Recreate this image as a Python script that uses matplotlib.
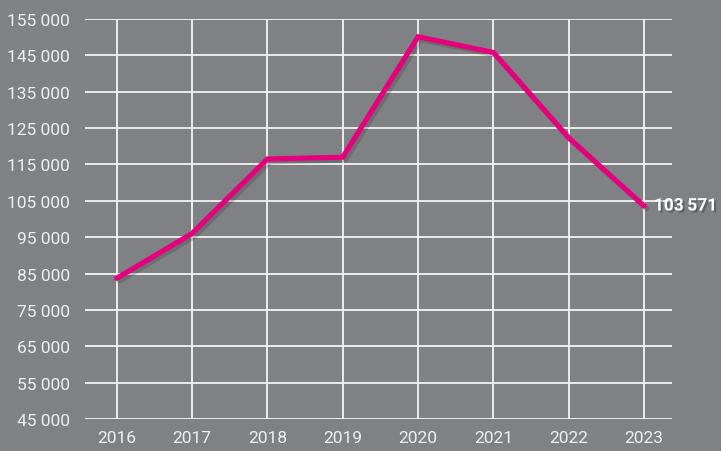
import matplotlib
matplotlib.use("Agg")
import matplotlib.pyplot as plt
import matplotlib.patheffects as pe

years = [2016, 2017, 2018, 2019, 2020, 2021, 2022, 2023]
values = [83700, 96000, 116500, 117000, 150100, 145800, 122300, 103571]
yticks = [45000, 55000, 65000, 75000, 85000, 95000, 105000, 115000, 125000, 135000, 145000, 155000]
last_label = "103\u2009571"

fam = "Roboto"

bg = "#808184"
fig = plt.figure(figsize=(7.21, 4.52), dpi=100, facecolor=bg)
ax = fig.add_axes([85/721, 1-420/452, (672-85)/721, 400/452])
ax.set_facecolor(bg)
ax.set_xlim(2015.58, 2023.37)
ax.set_ylim(45000, 155000)
ax.set_yticks(yticks)
ax.set_yticklabels([f"{v:,}".replace(",", " ") for v in yticks], fontfamily=fam, fontsize=12.5, color="#eeeeee")
ax.set_xticks(years)
ax.set_xticklabels([str(y) for y in years], fontfamily=fam, fontsize=12.5, color="#eeeeee")
ax.tick_params(axis='y', length=0, pad=11)
ax.tick_params(axis='x', length=0, pad=8)
for s in ax.spines.values():
    s.set_visible(False)
ax.grid(True, color="#f4f4f4", linewidth=1.3)
ax.set_axisbelow(True)

ax.plot(years, values, color="#E6007E", linewidth=3.7, solid_capstyle="round", solid_joinstyle="miter",
        path_effects=[pe.SimpleLineShadow(offset=(2, -2), shadow_color="#333333", alpha=0.25), pe.Normal()],
        clip_on=False, zorder=3)

ax.annotate(last_label, xy=(years[-1], values[-1]), xytext=(7, 0), textcoords="offset points",
            ha="left", va="center", fontfamily=fam, fontsize=12.5, fontweight="bold", color="white",
            annotation_clip=False,
            path_effects=[pe.withSimplePatchShadow(offset=(1.5, -1.5), shadow_rgbFace="#333333", alpha=0.4)])

fig.savefig("out.png", dpi=100, facecolor=bg)
